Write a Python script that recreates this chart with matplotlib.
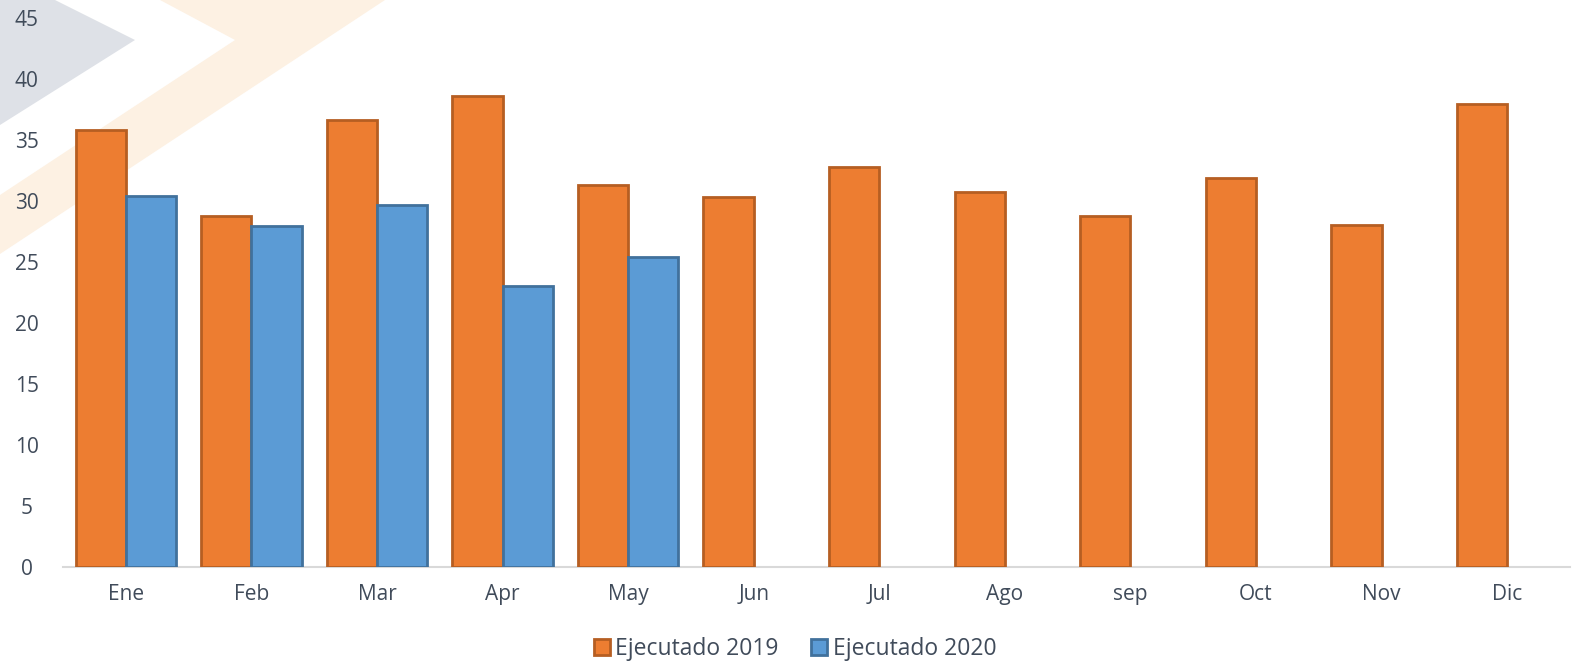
import matplotlib.pyplot as plt
import numpy as np
from matplotlib.patches import Polygon

meses = ["Ene", "Feb", "Mar", "Apr", "May", "Jun", "Jul", "Ago", "sep", "Oct", "Nov", "Dic"]
ejecutado_2019 = [35.8, 28.8, 36.6, 38.6, 31.3, 30.3, 32.8, 30.7, 28.8, 31.9, 28.0, 37.95]
ejecutado_2020 = [30.4, 27.95, 29.7, 23.0, 25.4]

plt.rcParams['font.family'] = ['Open Sans', 'DejaVu Sans']
texto = "#404B5A"

fig = plt.figure(figsize=(15.95, 6.71), dpi=100)
W, H = 1595, 671

# marca de agua de fondo, en un eje detras de todo (coordenadas en pixeles)
bg = fig.add_axes([0, 0, 1, 1], zorder=-1)
bg.set_xlim(0, W)
bg.set_ylim(H, 0)
bg.axis("off")
bg.add_patch(Polygon([(0, 0), (55, 0), (135, 40), (0, 125)],
                     facecolor="#DEE1E7", edgecolor="none"))
bg.add_patch(Polygon([(160, 0), (385, 0), (0, 254), (0, 195), (235, 40)],
                     facecolor="#FDF1E3", edgecolor="none"))

ax = fig.add_axes([63 / W, 1 - 567 / H, (1570 - 63) / W, (567 - 18) / H])
ax.patch.set_alpha(0)

x = np.arange(len(meses))
w = 0.4
ax.bar(x - w / 2, ejecutado_2019, w, color="#ED7D31", edgecolor="#B65E22",
       linewidth=2, label="Ejecutado 2019", zorder=3)
x2 = np.arange(len(ejecutado_2020))
ax.bar(x2 + w / 2, ejecutado_2020, w, color="#5B9BD5", edgecolor="#41719C",
       linewidth=2, label="Ejecutado 2020", zorder=3)

ax.set_xlim(-0.5, len(meses) - 0.5)
ax.set_ylim(0, 45)
ax.set_yticks(range(0, 46, 5))
ax.set_xticks(x)
ax.set_xticklabels(meses)
ax.tick_params(length=0, labelsize=15, colors=texto)
ax.tick_params(axis='y', pad=26)
ax.tick_params(axis='x', pad=12)
for l in ax.get_yticklabels():
    l.set_horizontalalignment('center')
for s in ["top", "right", "left"]:
    ax.spines[s].set_visible(False)
ax.spines["bottom"].set_color("#D9D9D9")
ax.spines["bottom"].set_linewidth(1.5)
ax.spines["bottom"].set_zorder(2)

leg = fig.legend(loc="center", bbox_to_anchor=(795 / W, 1 - 649 / H), ncol=2,
                 frameon=False, fontsize=16.5, handlelength=0.7, handleheight=0.7,
                 handletextpad=0.25, columnspacing=1.4)
for t in leg.get_texts():
    t.set_color(texto)

fig.savefig("out.png", dpi=100)
